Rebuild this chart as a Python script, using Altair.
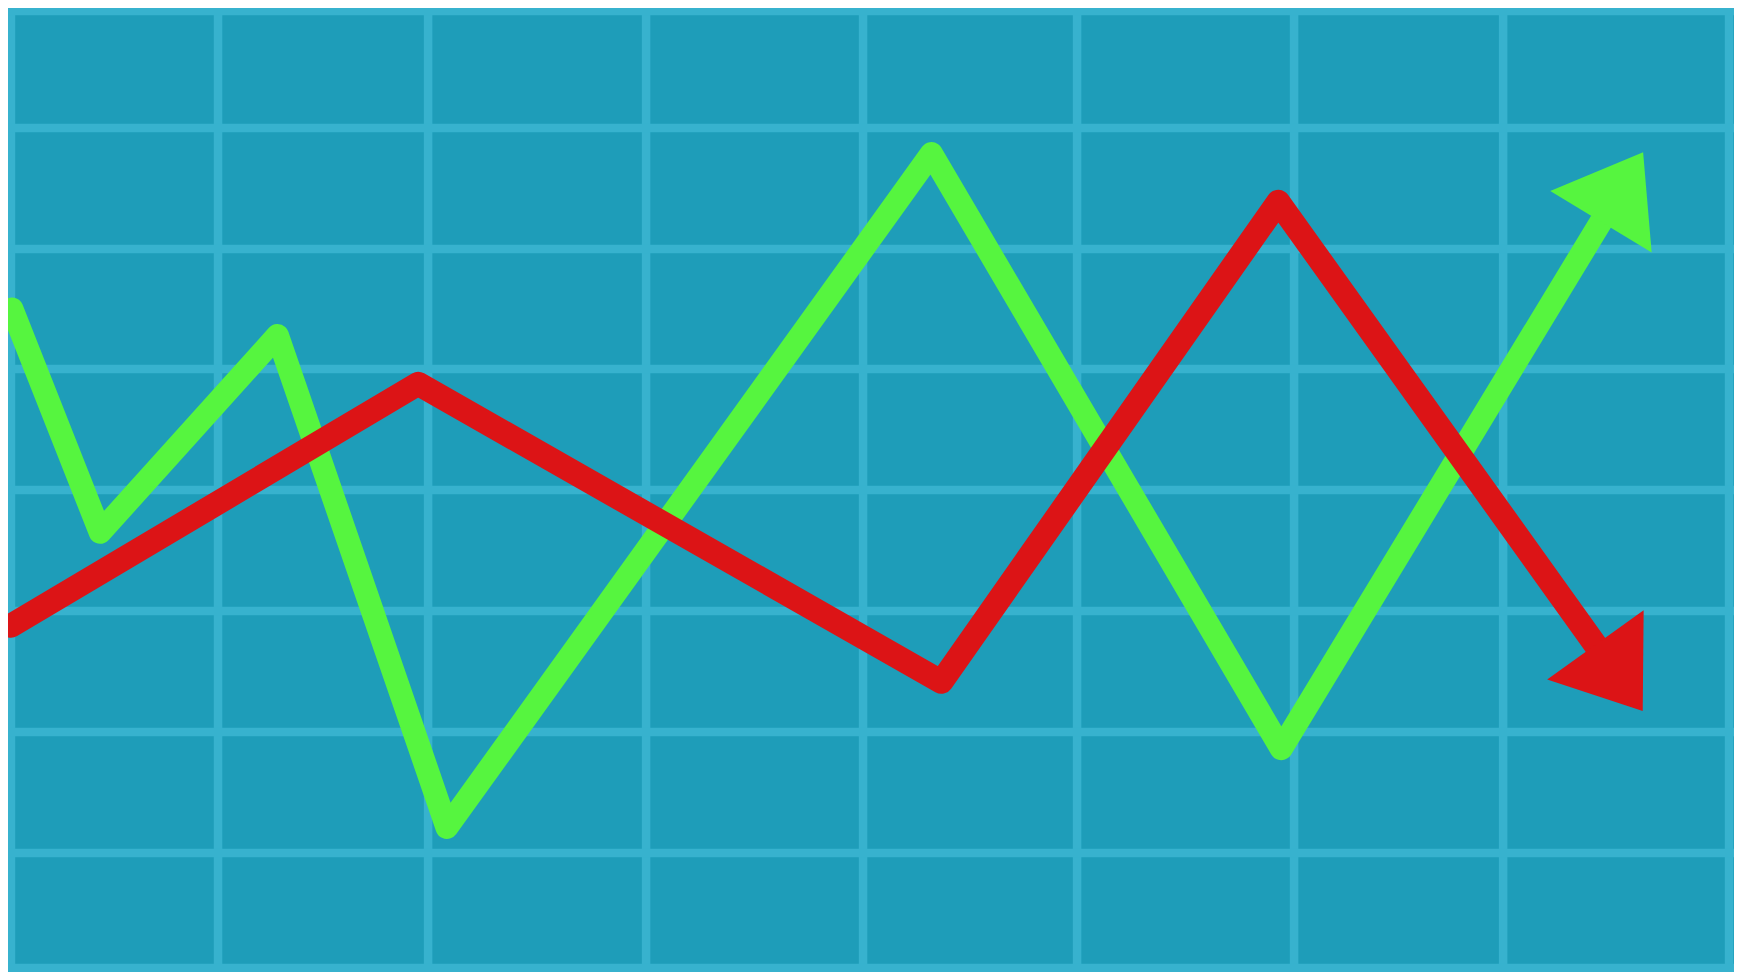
import math
import altair as alt
import pandas as pd

# Values (x: horizontal position, y: level from bottom)
green_x = [4, 93, 272, 443, 932, 1285, 1629]
green_y = [674, 447, 647, 147, 832, 227, 798]
red_x = [3, 414, 942, 1282, 1626]
red_y = [352, 598, 295, 783, 299]
grid_x = [3, 212, 424, 644, 863, 1079, 1298, 1509, 1737]
grid_y = [977, 858, 735, 613, 490, 367, 244, 121, 4]

W, H = 1726, 964
BG = "#1E9DB9"
GRID = "#37B2CE"
GREEN = "#56F53F"
RED = "#DC1416"

xs = alt.Scale(domain=[0, 1742], range=[0, W], nice=False, zero=False)
ys = alt.Scale(domain=[0, 980], range=[H, 0], nice=False, zero=False)

green = pd.DataFrame({"x": green_x, "y": green_y, "i": range(len(green_x))})
red = pd.DataFrame({"x": red_x, "y": red_y, "i": range(len(red_x))})
gx = pd.DataFrame({"gx": grid_x})
gy = pd.DataFrame({"gy": grid_y})


def heading(xv, yv):
    dx = (xv[-1] - xv[-2]) * W / 1742
    dy = (yv[-1] - yv[-2]) * H / 980
    return (math.degrees(math.atan2(dx, dy))) % 360


ARROW = "M0,-1L1.46,1L-1.46,1Z"

vgrid = alt.Chart(gx).mark_rule(color=GRID, strokeWidth=8.5).encode(
    x=alt.X("gx:Q", scale=xs, axis=None), y=alt.value(0), y2=alt.value(H)
)
hgrid = alt.Chart(gy).mark_rule(color=GRID, strokeWidth=8.5).encode(
    y=alt.Y("gy:Q", scale=ys, axis=None), x=alt.value(0), x2=alt.value(W)
)

gline = alt.Chart(green).mark_line(
    color=GREEN, strokeWidth=23, strokeJoin="round", strokeCap="round"
).encode(
    x=alt.X("x:Q", scale=xs, axis=None),
    y=alt.Y("y:Q", scale=ys, axis=None),
    order="i:O",
)
rline = alt.Chart(red).mark_line(
    color=RED, strokeWidth=24, strokeJoin="round", strokeCap="round"
).encode(
    x=alt.X("x:Q", scale=xs, axis=None),
    y=alt.Y("y:Q", scale=ys, axis=None),
    order="i:O",
)

ghead = alt.Chart(green.tail(1)).mark_point(
    shape=ARROW, filled=True, opacity=1, color=GREEN, size=6600,
    angle=heading(green_x, green_y), strokeWidth=0,
).encode(x=alt.X("x:Q", scale=xs, axis=None), y=alt.Y("y:Q", scale=ys, axis=None))
rhead = alt.Chart(red.tail(1)).mark_point(
    shape=ARROW, filled=True, opacity=1, color=RED, size=6600,
    angle=heading(red_x, red_y), strokeWidth=0,
).encode(x=alt.X("x:Q", scale=xs, axis=None), y=alt.Y("y:Q", scale=ys, axis=None))

chart = alt.layer(vgrid, hgrid, gline, rline, ghead, rhead).properties(
    width=W, height=H, background=BG, padding=0,
    autosize=alt.AutoSizeParams(type="none"),
).configure_view(stroke=None, fill=BG)

chart.save("out.html", embed_options={"renderer": "svg", "actions": False})
